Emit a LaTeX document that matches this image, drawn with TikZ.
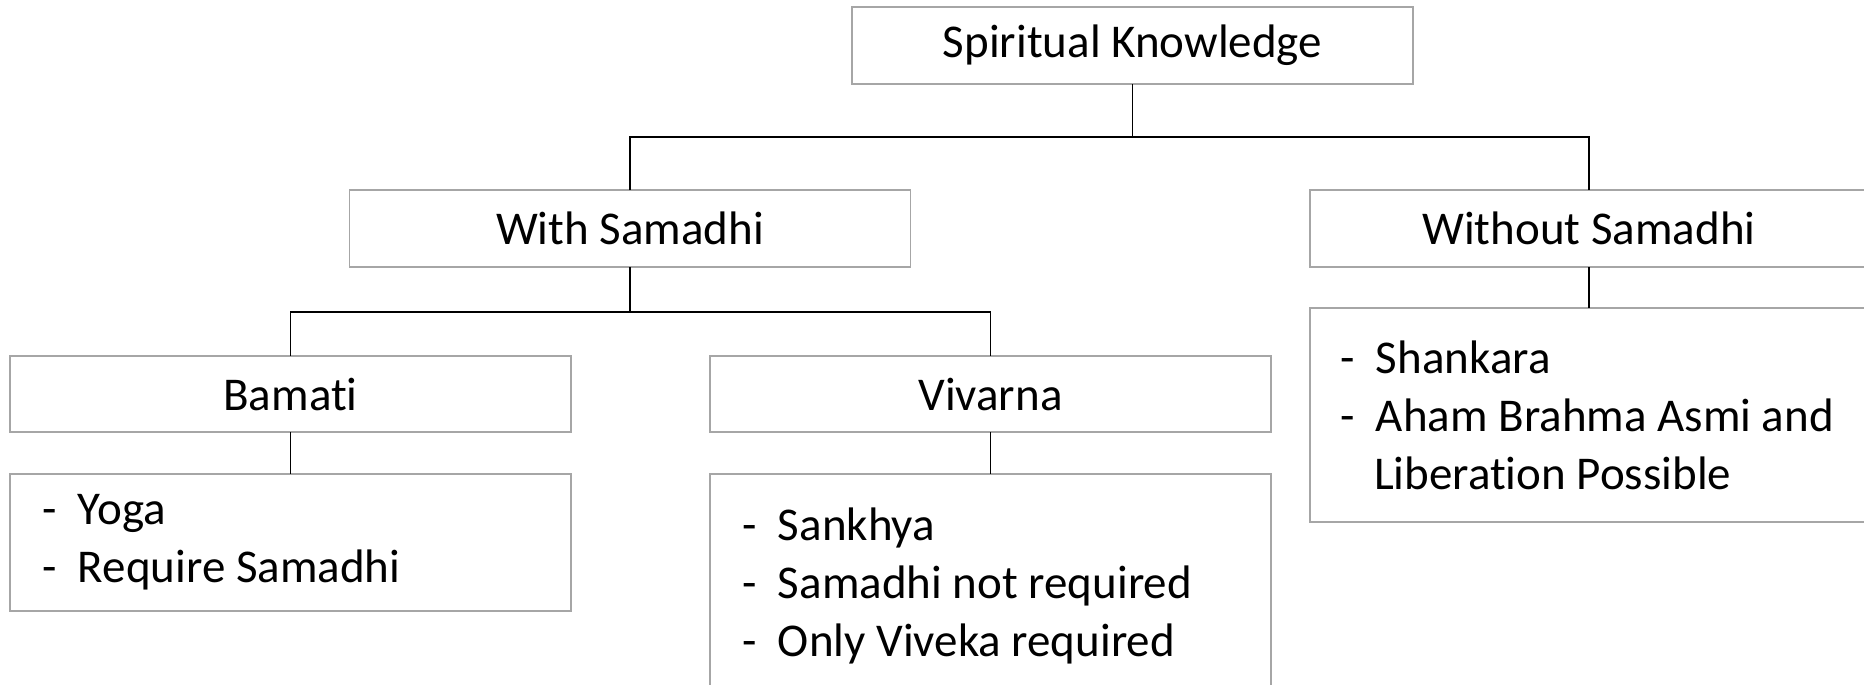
\documentclass[tikz,border=0pt]{standalone}
\usepackage{fontspec}
\setmainfont{Carlito}[Ligatures={NoCommon,NoContextual}]
\definecolor{boxgray}{HTML}{A6A6A6}
\newcommand\listdash{\makebox[18pt][l]{-}}

\begin{document}
\begin{tikzpicture}[
    x=0.5pt,
    y=-0.5pt,
    box/.style={
        draw=boxgray,
        line width=0.65pt,
        minimum width=280.5pt,
        minimum height=38.5pt,
        inner sep=0pt,
        outer sep=0pt,
        font=\fontsize{23.5}{29}\selectfont
    },
    list/.style={
        box,
        align=flush left,
        text width=248.5pt,
        inner xsep=16pt
    },
    link/.style={
        draw=black,
        line width=0.9pt
    }
]

\useasboundingbox (0,0) rectangle (1864,685);

\node[box] (know) at (1132.5,45.5) {Spiritual Knowledge};
\node[box] (withs) at (630,228.5) {With Samadhi};
\node[box, minimum width=279pt] (withouts) at (1589,228.5) {Without Samadhi};
\node[box, minimum height=38pt] (bamati) at (290.5,394) {Bamati};
\node[box, minimum height=38pt] (vivarna) at (990.5,394) {Vivarna};

\node[list, minimum height=68.5pt] (bamlist) at (290.5,542.5)
    {\listdash Yoga\\\listdash Require Samadhi};
\node[list, minimum height=112pt] (vivlist) at (990.5,586)
    {\listdash Sankhya\\\listdash Samadhi not required\\\listdash Only Viveka required};
\node[list, minimum height=107pt, text width=270pt, inner xsep=15pt, anchor=west] (withoutlist) at (1310,415)
    {\listdash Shankara\\\listdash Aham Brahma Asmi and\\\hspace{17pt}Liberation Possible};

\coordinate (bus1) at (1132.5,137);
\coordinate (bus2) at (630,312);

\draw[link] (know.south) -- (bus1);
\draw[link] (withs.north) |- (bus1) -| (withouts.north);
\draw[link] (withs.south) -- (bus2);
\draw[link] (bamati.north) |- (bus2) -| (vivarna.north);
\draw[link] (bamati) -- (bamlist);
\draw[link] (vivarna) -- (vivlist);
\draw[link] (withouts.south) -- (withouts.south |- withoutlist.north);

\end{tikzpicture}
\end{document}
